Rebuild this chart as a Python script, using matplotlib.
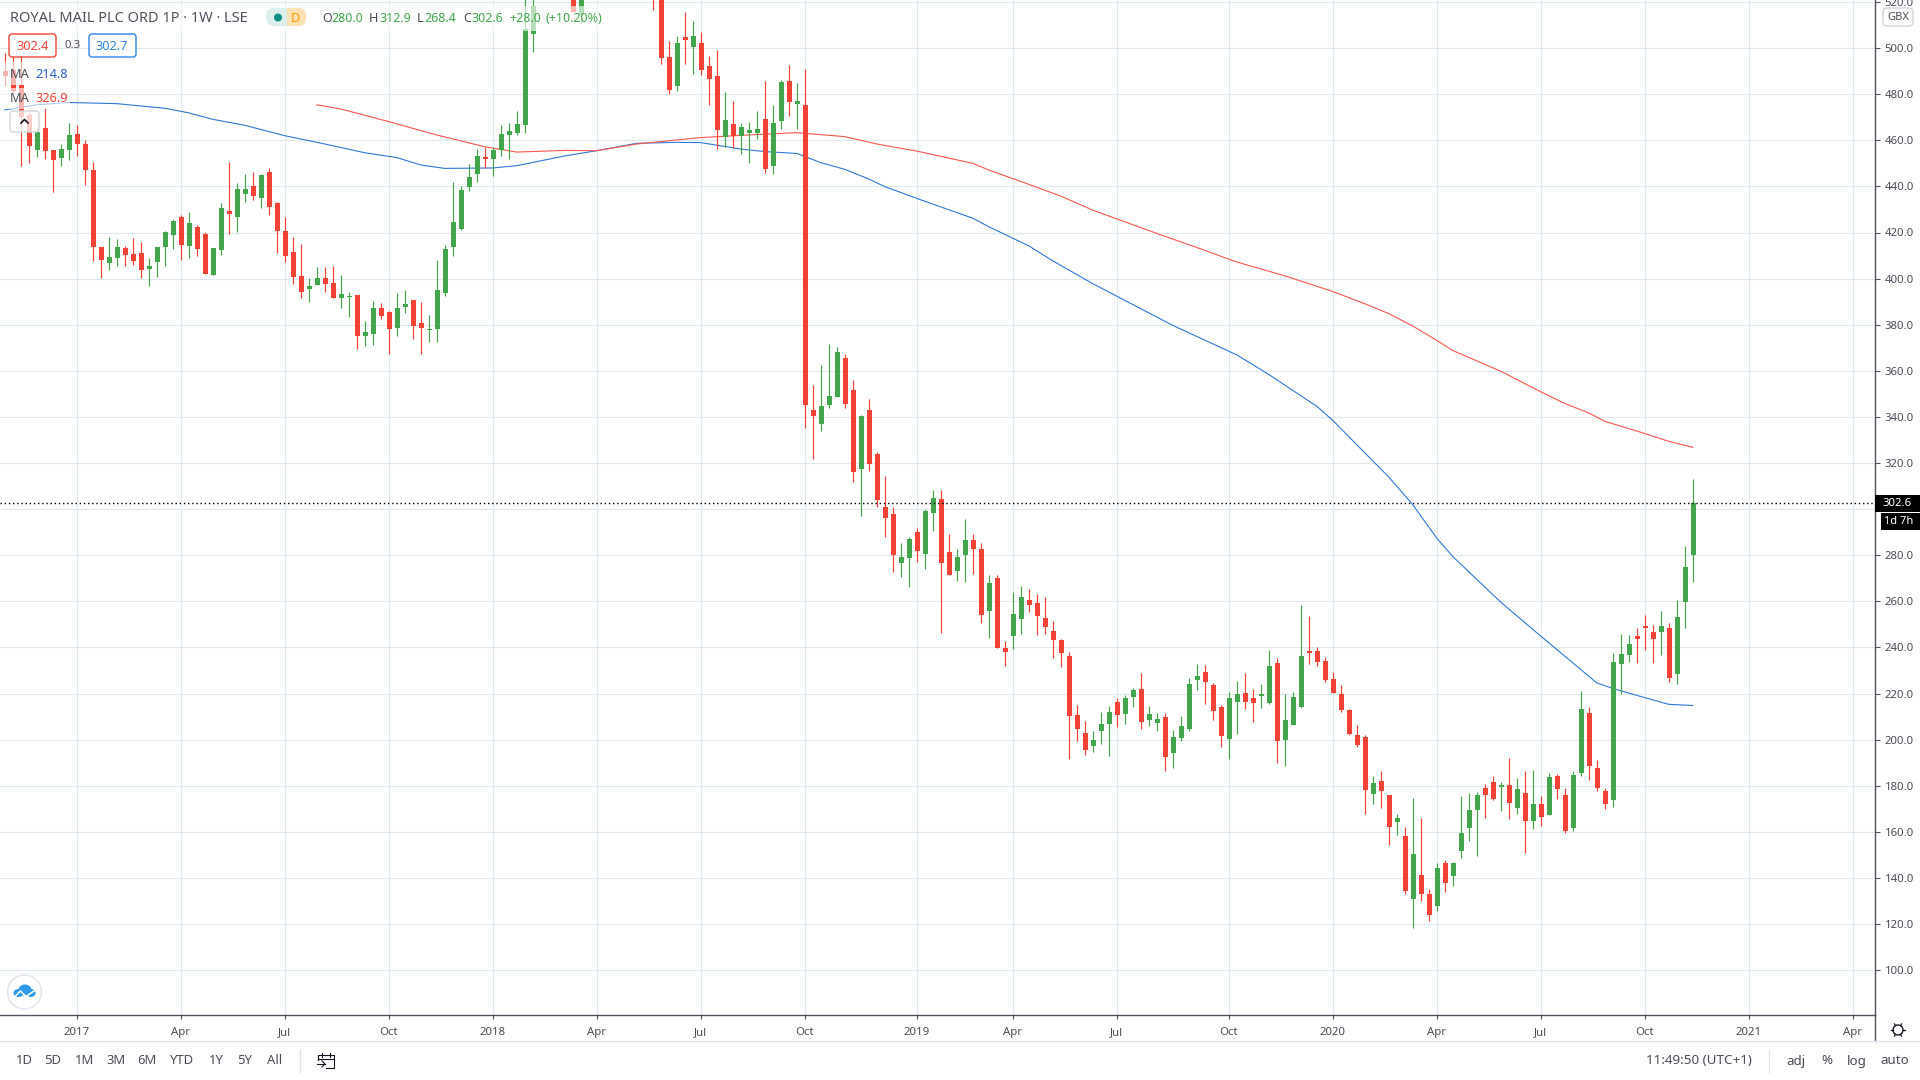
import numpy as np
import matplotlib
matplotlib.use( "Agg" )
import matplotlib.pyplot as plt
from matplotlib.patches import Rectangle, FancyBboxPatch, Circle, Ellipse

plt.rcParams[ "font.family" ] = [ "Noto Sans", "DejaVu Sans" ]

## weekly candles, nan where the candle sits above the visible price range ##
nan = np.nan
opens = [
    490.1,490.6,484.0,471.0,455.8,465.2,455.8,452.3,455.8,462.7,
    458.4,447.1,413.6,406.7,408.8,413.2,410.6,411.0,404.0,407.1,
    413.6,418.8,426.7,414.0,422.3,419.3,401.4,412.3,429.3,426.7,
    436.7,440.1,434.9,446.2,432.7,420.6,411.4,401.0,395.4,397.1,
    400.1,398.0,391.4,391.9,392.7,375.3,375.8,387.1,385.4,378.4,
    387.5,390.6,380.6,377.5,378.0,393.6,413.6,421.4,439.7,445.3,
    452.7,451.9,455.8,462.3,463.2,466.7,506.2,nan,nan,nan,
    nan,530.0,514.5,nan,nan,nan,nan,nan,nan,nan,
    nan,540.0,530.0,496.2,483.6,504.9,500.6,502.3,492.3,488.0,
    461.4,467.1,461.9,463.2,463.2,469.3,448.8,468.4,485.8,475.8,
    475.3,342.9,336.8,345.1,348.6,365.5,351.6,317.2,342.9,323.8,
    300.7,297.7,276.8,278.6,289.9,280.7,298.1,304.2,281.2,273.3,
    279.9,286.8,282.9,256.0,270.3,239.8,245.1,252.5,260.7,259.4,
    252.9,247.2,243.3,236.4,210.7,202.9,197.2,203.8,206.8,216.4,
    211.2,218.6,222.0,208.5,207.2,209.9,194.2,200.7,204.6,225.9,
    229.4,223.8,214.2,200.3,216.4,220.3,218.1,219.0,215.9,233.3,
    199.9,206.4,214.2,238.5,238.5,234.2,226.4,219.9,212.9,202.0,
    201.2,176.4,182.0,175.9,164.2,158.1,130.7,141.2,132.9,127.7,
    146.4,140.7,151.6,161.6,169.4,179.0,181.6,179.4,180.3,170.3,
    176.8,164.6,172.0,167.2,184.2,175.9,161.6,185.5,211.6,187.7,
    177.7,173.8,232.6,236.5,244.8,249.1,246.5,246.5,248.6,228.3,
    259.5,280.0 ]
highs = [
    497.8,496.4,496.4,471.7,465.2,473.9,455.8,458.4,467.4,466.7,
    460.1,450.4,413.6,418.0,417.1,414.0,417.5,415.8,408.8,413.6,
    420.6,425.8,427.5,428.8,423.2,420.1,413.2,432.7,450.4,441.4,
    445.3,446.2,445.3,448.0,433.2,426.7,418.0,414.9,400.1,404.9,
    404.9,405.4,401.4,394.0,392.7,381.4,390.1,389.3,385.8,393.6,
    394.9,390.6,389.7,384.0,408.0,414.5,441.9,440.1,449.7,456.2,
    457.1,457.1,466.7,467.5,472.7,522.0,525.0,nan,nan,nan,
    nan,535.0,535.0,nan,nan,nan,nan,nan,nan,nan,
    nan,545.0,532.0,503.2,505.4,515.8,511.9,507.1,496.7,499.3,
    481.0,477.1,467.5,468.0,472.7,485.8,475.3,486.2,492.7,484.9,
    491.0,353.8,362.5,371.6,370.3,367.2,356.0,340.7,347.7,324.6,
    314.2,300.7,285.1,288.1,291.6,299.9,308.5,308.5,289.0,282.9,
    295.5,289.0,285.1,271.2,271.6,242.9,264.2,266.8,265.5,263.3,
    262.0,251.6,243.8,238.1,215.1,208.1,203.8,212.0,214.6,218.1,
    219.4,222.5,229.0,214.6,211.6,211.6,204.2,210.3,226.8,232.9,
    232.5,224.6,215.1,220.7,225.5,229.0,222.0,224.2,239.0,235.5,
    219.9,220.7,258.6,253.8,240.3,235.9,229.4,223.8,213.3,206.4,
    202.0,184.2,186.4,175.9,167.7,162.0,174.6,166.0,135.1,146.4,
    147.7,146.8,175.5,176.8,177.2,180.7,184.2,181.6,192.0,183.3,
    186.4,186.8,175.5,185.5,185.1,179.0,186.4,221.2,214.2,191.2,
    179.0,237.7,246.0,245.2,248.2,253.9,249.9,256.0,250.4,260.4,
    283.8,312.9 ]
lows = [
    484.0,480.4,449.0,450.0,452.6,451.7,437.5,449.0,451.4,453.2,
    440.6,407.5,400.3,403.6,405.4,405.4,405.8,400.1,396.7,400.6,
    405.4,412.7,408.0,408.8,409.7,401.9,401.4,410.1,419.3,420.1,
    433.2,434.0,430.6,427.5,411.0,407.1,397.5,391.4,389.7,397.1,
    394.0,391.4,387.1,383.2,369.3,370.6,371.4,382.3,367.5,375.3,
    384.9,373.6,367.1,372.7,372.3,392.3,409.7,421.0,438.0,441.9,
    448.0,444.5,453.2,451.9,462.3,463.2,498.4,nan,nan,nan,
    nan,515.8,510.9,nan,nan,nan,nan,nan,nan,nan,
    nan,516.7,493.2,480.1,481.4,493.2,488.8,488.4,475.3,456.2,
    457.1,456.7,454.1,450.1,460.6,445.8,445.3,464.9,470.6,464.9,
    335.0,321.6,333.8,343.8,348.6,343.8,311.6,296.8,316.4,300.7,
    288.1,272.5,270.7,266.0,277.2,273.8,290.7,246.4,271.2,269.0,
    268.5,272.0,250.7,244.2,239.8,232.0,239.4,246.0,255.5,245.5,
    246.0,235.5,231.6,191.6,199.4,193.3,194.6,198.1,192.9,205.5,
    206.8,214.2,204.6,205.9,203.8,186.4,187.7,199.4,203.8,221.6,
    215.5,208.5,196.8,191.6,202.5,213.3,207.7,213.8,215.5,189.9,
    188.6,206.4,213.8,232.9,232.0,225.1,220.3,212.0,202.0,196.8,
    167.7,172.0,170.3,154.2,158.6,132.9,118.1,129.9,121.2,125.5,
    133.8,136.4,148.6,155.9,149.4,166.0,173.8,169.0,165.5,167.7,
    150.7,161.2,162.5,167.2,174.2,159.4,160.3,184.2,182.5,177.7,
    169.8,170.7,220.0,233.5,233.1,238.7,233.1,236.5,224.8,224.0,
    248.2,268.4 ]
closes = [
    487.7,481.2,470.3,457.5,463.8,455.5,451.4,456.2,462.3,458.4,
    447.1,413.6,408.0,409.3,413.6,410.1,407.5,403.6,405.4,413.6,
    420.1,424.9,414.5,424.0,412.7,401.9,413.2,430.6,428.0,438.8,
    438.8,435.8,444.9,431.0,420.6,409.7,400.6,394.0,396.7,400.1,
    397.5,391.4,393.2,392.3,375.3,376.7,387.1,383.6,378.0,387.1,
    388.8,379.3,378.4,378.0,394.9,412.7,424.5,438.4,444.0,453.2,
    451.9,455.8,462.7,464.0,467.1,508.4,518.1,nan,nan,nan,
    nan,515.8,530.0,nan,nan,nan,nan,nan,nan,nan,
    nan,525.0,495.8,481.9,502.3,503.6,505.4,490.6,486.7,464.5,
    468.8,461.9,465.8,464.5,464.9,447.5,467.5,485.3,476.7,477.1,
    345.2,340.3,344.6,349.0,368.1,345.5,316.0,340.3,319.4,303.8,
    296.0,280.3,279.4,287.2,282.0,299.0,304.6,276.4,271.2,279.4,
    286.8,282.9,254.2,268.1,239.8,238.1,254.6,262.0,258.5,253.8,
    249.0,243.3,237.7,210.3,204.6,195.5,199.9,206.8,212.0,210.7,
    218.1,221.6,207.7,211.2,209.0,192.5,201.2,205.9,224.2,227.7,
    225.1,212.5,201.6,218.1,219.9,216.4,215.9,219.9,232.0,199.4,
    208.5,218.6,236.4,237.7,233.8,225.9,220.3,212.9,202.5,197.7,
    178.1,181.2,177.7,162.0,166.0,134.2,150.3,132.9,123.8,144.2,
    137.7,146.4,159.4,169.4,175.9,175.9,174.2,180.3,172.5,178.5,
    164.6,172.0,166.4,183.8,178.5,160.3,184.6,213.3,188.5,179.0,
    172.0,233.8,237.0,241.3,243.5,248.2,243.5,249.5,226.6,253.4,
    274.7,302.6 ]

## moving averages, read at the bends of each line ##
maBlueWeek = [ 0,4,8,14,20,23,26,30,35,40,45,49,52,55,61,64,70,74,79,84,87,92,95,99,102,105,
               108,110,114,117,121,123,128,131,136,146,154,158,164,166,170,173,176,179,181,
               187,192,199,201,205,208,211 ]
maBlueVals = [ 473.2,475.4,476.4,475.9,473.9,471.9,469.1,466.5,462.0,458.4,454.6,452.5,449.3,
               447.8,448.0,449.0,453.2,455.5,458.7,459.1,459.0,456.2,455.1,454.3,450.3,447.4,
               443.2,439.9,434.8,431.1,426.2,422.5,414.2,407.7,397.8,379.7,366.9,358.4,344.6,
               338.5,324.4,313.9,301.9,287.4,279.4,259.6,244.9,224.6,222.2,218.2,215.3,214.8 ]
maRedWeek = [ 39,42,48,54,60,64,70,74,79,87,94,99,105,109,114,121,123,128,132,136,144,149,152,
              154,160,166,170,173,176,179,181,187,192,195,198,200,205,208,211 ]
maRedVals = [ 475.4,473.6,468.1,462.3,457.2,454.9,455.6,455.5,458.4,461.2,462.5,463.3,461.6,
              458.4,455.3,450.0,447.1,440.9,435.8,429.7,419.6,413.5,409.7,407.2,401.2,394.4,
              389.1,384.8,379.4,373.2,368.8,359.8,350.9,345.8,341.7,338.1,332.8,329.4,326.8 ]

## axis labels ##
dateWeeks = [ 9, 22, 35, 48, 61, 74, 87, 100, 114, 126, 139, 153, 166, 179, 192, 205, 218, 231 ]
dateLabels = [ "2017", "Apr", "Jul", "Oct", "2018", "Apr", "Jul", "Oct", "2019", "Apr", "Jul", "Oct",
               "2020", "Apr", "Jul", "Oct", "2021", "Apr" ]
priceTicks = list( range( 100, 540, 20 ) )
lastPrice = 302.6
ranges = [ "1D", "5D", "1M", "3M", "6M", "YTD", "1Y", "5Y", "All" ]
rangeX = [ 24, 53, 85, 116, 147, 182, 216, 245, 275 ]

GREEN = "#43a64d"
RED = "#f44336"
GRID = "#e1e9f0"
AXIS = "#50535e"
TEXT = "#4a4d57"
BLUE_MA = "#3179d8"
RED_MA = "#f9574f"

fig = plt.figure( figsize=( 19.2, 10.8 ), dpi=100, facecolor="white" )
ax = fig.add_axes( [ 0, 65 / 1080, 1875 / 1920, 1015 / 1080 ] )

## candles sit 8 px apart, first one at x = 4.8 px ##
ax.set_xlim( -4.8 / 8, ( 1875 - 4.8 ) / 8 )
ax.set_ylim( 320 - ( 1015 - 463.0 ) / 2.305, 320 + 463.0 / 2.305 )

ax.set_xticks( dateWeeks )
ax.set_xticklabels( dateLabels )
ax.set_yticks( priceTicks )
# the 300.0 label sits behind the last price box, as on the original
ax.set_yticklabels( [ "" if p == 300 else f"{p:.1f}" for p in priceTicks ] )
ax.yaxis.tick_right()
ax.tick_params( axis="y", length=3.6, width=0.8, color=AXIS, labelcolor=TEXT, labelsize=8.2, pad=3.4 )
ax.tick_params( axis="x", length=3.0, width=0.8, color=AXIS, labelcolor=TEXT, labelsize=8.2, pad=5.5 )
for lbl in ax.get_xticklabels():
    if lbl.get_text().isdigit():
        lbl.set_fontweight( "bold" )
ax.grid( True, color=GRID, linewidth=0.85 )
ax.set_axisbelow( True )
ax.spines[ "top" ].set_visible( False )
ax.spines[ "left" ].set_visible( False )
ax.spines[ "right" ].set_color( AXIS )
ax.spines[ "bottom" ].set_color( AXIS )
ax.spines[ "right" ].set_linewidth( 1.0 )
ax.spines[ "bottom" ].set_linewidth( 1.0 )

ax.plot( maBlueWeek, maBlueVals, color=BLUE_MA, linewidth=0.8, zorder=2 )
ax.plot( maRedWeek, maRedVals, color=RED_MA, linewidth=0.8, zorder=2 )

o = np.array( opens )
h = np.array( highs )
l = np.array( lows )
c = np.array( closes )
# half a pixel nudge, snapping pulls the candles left of the grid otherwise
weeks = np.arange( len( o ) ) + 0.06
shown = ~np.isnan( o )
colors = np.where( c < o, RED, GREEN )
ax.vlines( weeks[ shown ], l[ shown ], h[ shown ], colors=colors[ shown ], linewidth=0.85, zorder=3 )
bodyHeight = np.maximum( np.abs( c - o ), 0.6 )
ax.bar( weeks[ shown ], bodyHeight[ shown ], bottom=np.minimum( o, c )[ shown ], width=0.625,
        color=colors[ shown ], linewidth=0, zorder=4 )
ax.axhline( lastPrice, color="black", linewidth=1.0, linestyle=( 0, ( 1, 2 ) ), zorder=5 )

## everything around the chart is drawn on a pixel overlay ##
ui = fig.add_axes( [ 0, 0, 1, 1 ], zorder=10 )
ui.set_xlim( 0, 1920 )
ui.set_ylim( 1080, 0 )
ui.axis( "off" )
ui.patch.set_alpha( 0 )

def label( x, y, s, color=TEXT, size=9.4, ha="center", **kw ):
    ui.text( x, y, s, color=color, fontsize=size, ha=ha, va="center", **kw )

def veil( x0, y0, x1, y1, alpha=0.62 ):
    ui.add_patch( Rectangle( ( x0, y0 ), x1 - x0, y1 - y0, facecolor="white", edgecolor="none", alpha=alpha ) )

def roundBox( x0, y0, x1, y1, edge, face="white", r=3, lw=1.0 ):
    ui.add_patch( FancyBboxPatch( ( x0 + r, y0 + r ), x1 - x0 - 2 * r, y1 - y0 - 2 * r,
                                  boxstyle=f"round,pad={r},rounding_size={r}",
                                  facecolor=face, edgecolor=edge, linewidth=lw ) )

# legend backdrop fades the candles under it
veil( 0, 6, 612, 31 )
veil( 0, 62, 70, 85 )
veil( 0, 88, 70, 109 )

label( 10, 18, "ROYAL MAIL PLC ORD 1P · 1W · LSE", size=10.5, ha="left", color="#50535e" )

# market status pill
roundBox( 266, 8, 306, 26, "none", face="#dcefec", r=8 )
ui.add_patch( Rectangle( ( 287, 8 ), 11, 18, facecolor="#ffe0b2", edgecolor="none" ) )
roundBox( 287, 8, 306, 26, "none", face="#ffe0b2", r=8 )
ui.add_patch( Circle( ( 278, 17.5 ), 4, facecolor="#0a8f80", edgecolor="none" ) )
label( 295, 18, "D", color="#ff9800", size=9.2, fontweight="bold" )

# ohlc row
ohlcLetters = [ ( 322, "O" ), ( 369, "H" ), ( 417, "L" ), ( 463, "C" ) ]
ohlcValues = [ ( 331, "280.0" ), ( 379, "312.9" ), ( 424, "268.4" ), ( 472, "302.6" ),
               ( 509, "+28.0" ), ( 546, "(+10.20%)" ) ]
for x, s in ohlcLetters:
    label( x, 18.5, s, size=9.0, ha="left" )
for x, s in ohlcValues:
    label( x, 18.5, s, color=GREEN, size=9.0, ha="left" )

# bid / ask boxes
roundBox( 9, 34, 56, 57, RED )
label( 33, 46, "302.4", color=RED, size=9.2 )
label( 73, 46, "0.3", size=8.2 )
roundBox( 89, 34, 136, 57, "#2f86ec" )
label( 112, 46, "302.7", color="#2f86ec", size=9.2 )

# moving average legend
label( 10, 74, "MA", size=9.2, ha="left" )
label( 35, 74, "214.8", color="#2a62c4", size=9.2, ha="left" )
label( 10, 98, "MA", size=9.2, ha="left" )
label( 35, 98, "326.9", color=RED, size=9.2, ha="left" )

# collapse button
roundBox( 10, 111, 39, 132, "#d1d4dc", face=( 1, 1, 1, 0.75 ) )
ui.plot( [ 21, 24.5, 28 ], [ 123, 119.5, 123 ], color="#131722", linewidth=1.2 )

# logo
ui.add_patch( Circle( ( 24.5, 992 ), 17, facecolor="white", edgecolor="#e0e3eb", linewidth=1.0 ) )
for cx, cy, w, ht in [ ( 18.5, 993, 10, 8 ), ( 25, 990, 13, 11 ), ( 31, 993, 9, 8 ) ]:
    ui.add_patch( Ellipse( ( cx, cy ), w, ht, facecolor="#2f9bf0", edgecolor="none" ) )
ui.plot( [ 14, 20.5, 26, 34 ], [ 997.5, 991, 996.5, 991 ], color="white", linewidth=1.1 )

# gbx currency box, price labels
roundBox( 1883, 8, 1913, 26, "#d1d4dc", r=4 )
label( 1898, 17, "GBX", size=8.0 )
ui.add_patch( Rectangle( ( 1875, 495 ), 45, 17, facecolor="black", edgecolor="none" ) )
label( 1897, 503.5, "302.6", color="white", size=8.2 )
ui.add_patch( Rectangle( ( 1881, 513 ), 39, 17, facecolor="black", edgecolor="none" ) )
label( 1899, 521.5, "1d 7h", color="white", size=8.0 )

# bottom toolbar
ui.plot( [ 1875, 1875 ], [ 1015, 1041 ], color=AXIS, linewidth=1.0 )
ui.plot( [ 0, 1920 ], [ 1041, 1041 ], color="#e0e3eb", linewidth=1.0 )
for x, s in zip( rangeX, ranges ):
    label( x, 1061, s, size=9.4 )
ui.plot( [ 300, 300 ], [ 1050, 1072 ], color="#e0e3eb", linewidth=1.0 )
ui.plot( [ 1769, 1769 ], [ 1050, 1072 ], color="#e0e3eb", linewidth=1.0 )

# go-to-date icon
ui.plot( [ 318, 318, 334, 334, 326 ], [ 1060, 1055, 1055, 1068, 1068 ], color="#131722", linewidth=0.8 )
ui.plot( [ 318, 334 ], [ 1059, 1059 ], color="#131722", linewidth=0.8 )
ui.plot( [ 322, 322 ], [ 1053, 1057 ], color="#131722", linewidth=0.8 )
ui.plot( [ 330, 330 ], [ 1053, 1057 ], color="#131722", linewidth=0.8 )
ui.plot( [ 317, 325 ], [ 1064, 1064 ], color="#131722", linewidth=0.8 )
ui.plot( [ 322, 325, 322 ], [ 1061, 1064, 1067 ], color="#131722", linewidth=0.8 )

label( 1752, 1061, "11:49:50 (UTC+1)", ha="right", size=9.7 )
for x, s in [ ( 1796, "adj" ), ( 1827, "%" ), ( 1857, "log" ), ( 1895, "auto" ) ]:
    label( x, 1061, s, size=9.6 )

# settings sun
ui.add_patch( Circle( ( 1898, 1030 ), 5, facecolor="white", edgecolor="#131722", linewidth=1.0 ) )
for ang in np.arange( 0, 360, 60 ):
    dx, dy = np.cos( np.radians( ang ) ), np.sin( np.radians( ang ) )
    ui.plot( [ 1898 + 5 * dx, 1898 + 7 * dx ], [ 1030 + 5 * dy, 1030 + 7 * dy ], color="#131722", linewidth=0.9 )

fig.savefig( "out.png", dpi=100 )
